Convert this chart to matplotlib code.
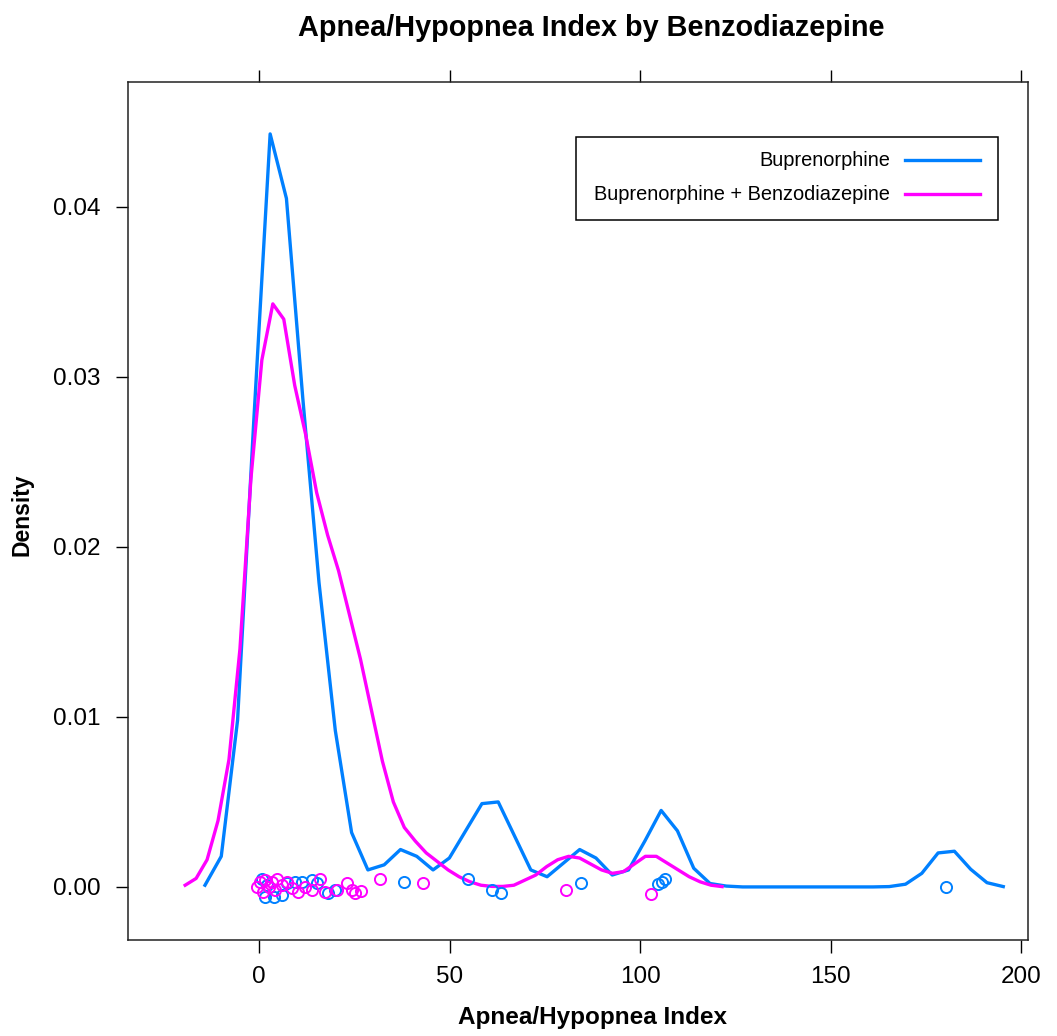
import matplotlib
matplotlib.use('Agg')
import matplotlib.pyplot as plt
from matplotlib.patches import Rectangle
from matplotlib.lines import Line2D
import numpy as np

plt.rcParams['font.family'] = ['Liberation Sans', 'DejaVu Sans']

# 颜色 (lattice 默认配色)
blue = '#0080ff'
magenta = '#ff00ff'

# 密度曲线 - Buprenorphine (50个点)
bup_x = np.linspace(-14.2, 195.3, 50)
bup_y = [0.0001, 0.0018, 0.0098, 0.0275, 0.0443, 0.0405, 0.0288, 0.0179, 0.0092, 0.0032,
         0.0010, 0.0013, 0.0022, 0.0018, 0.0010, 0.0017, 0.0033, 0.0049, 0.0050, 0.0030,
         0.0010, 0.0006, 0.0014, 0.0022, 0.0017, 0.0007, 0.0010, 0.0027, 0.0045, 0.0033,
         0.0011, 0.0002, 0.00005, 0.0, 0.0, 0.0, 0.0, 0.0, 0.0, 0.0,
         0.0, 0.0, 0.00002, 0.00016, 0.0008, 0.0020, 0.0021, 0.00104, 0.00025, 0.00002]

# 密度曲线 - Buprenorphine + Benzodiazepine (50个点)
benzo_x = np.linspace(-19.4, 121.5, 50)
benzo_y = [0.0001, 0.0005, 0.0016, 0.0039, 0.0075, 0.0140, 0.0240, 0.0310, 0.0343, 0.0334,
           0.0295, 0.0266, 0.0232, 0.0207, 0.0186, 0.0160, 0.0134, 0.0104, 0.0074, 0.0050,
           0.0035, 0.0027, 0.0020, 0.0015, 0.0010, 0.0006, 0.0003, 0.0001, 0.00003, 0.00003,
           0.0001, 0.0004, 0.0007, 0.0012, 0.0016, 0.0018, 0.0017, 0.00135, 0.0010, 0.0008,
           0.0009, 0.00135, 0.0018, 0.0018, 0.0014, 0.0010, 0.0006, 0.0003, 0.0001, 0.00002]

# 原始数据点 (y 方向抖动)
bup_pts_x = [0.7, 2.0, 1.6, 3.8, 5.9, 7.3, 9.5, 11.2, 13.8, 15.1, 18.2, 19.9,
             37.9, 54.7, 61.1, 63.4, 84.5, 104.8, 105.7, 106.6, 180.3]
bup_pts_y = [0.00049, 0.00012, -0.00057, -0.00057, -0.00047, 0.00022, 0.00031, 0.00031,
             0.00041, 0.00022, -0.00037, -0.00018, 0.0003, 0.00045, -0.00018, -0.00037,
             0.00025, 0.00015, 0.0003, 0.00045, 0.0]

benzo_pts_x = [-0.6, 0.26, 1.1, 1.6, 2.5, 3.3, 4.2, 4.6, 5.9, 7.3, 8.6, 10.3, 12.1, 13.8,
               16.0, 17.3, 20.4, 23.0, 24.3, 25.2, 26.7, 31.8, 43.0, 80.6, 102.9]
benzo_pts_y = [0.00002, 0.00031, -0.00028, 0.00041, 0.00002, 0.00031, -0.00018, 0.00045,
               0.00012, 0.00031, -0.00008, -0.00028, 0.00002, -0.00018, 0.00045, -0.00028,
               -0.00018, 0.00022, -0.00018, -0.00037, -0.00022, 0.00045, 0.00025, -0.00018,
               -0.00042]

labels = ['Buprenorphine', 'Buprenorphine + Benzodiazepine']

fig = plt.figure(figsize=(10.57, 10.36), dpi=100)
ax = fig.add_axes([0.1211, 0.0927, 0.8515, 0.9208 - 0.0927])

ax.plot(bup_x, bup_y, color=blue, lw=2.4)
ax.plot(benzo_x, benzo_y, color=magenta, lw=2.4)
ax.plot(bup_pts_x, bup_pts_y, 'o', mfc='none', mec=blue, ms=8, mew=1.4)
ax.plot(benzo_pts_x, benzo_pts_y, 'o', mfc='none', mec=magenta, ms=8, mew=1.4)

ax.set_xlim(-34.4, 201.8)
ax.set_ylim(-0.00312, 0.04735)
ax.set_xticks([0, 50, 100, 150, 200])
ax.set_yticks([0.0, 0.01, 0.02, 0.03, 0.04])
ax.set_yticklabels(['0.00', '0.01', '0.02', '0.03', '0.04'])
ax.tick_params(axis='x', top=True, labeltop=False, direction='out', length=9, width=1,
               labelsize=17.5, pad=10)
ax.tick_params(axis='y', right=False, direction='out', length=9, width=1,
               labelsize=17.5, pad=11)
for s in ax.spines.values():
    s.set_linewidth(1.1)
    s.set_color('#222222')

# 图例 (文字右对齐, 线段在右侧)
ax.add_patch(Rectangle((0.498, 0.839), 0.469, 0.097, transform=ax.transAxes,
                       fill=False, ec='black', lw=1.1))
for lab, col, yy in zip(labels, [blue, magenta], [0.909, 0.869]):
    ax.text(0.847, yy, lab, transform=ax.transAxes, ha='right', va='center', fontsize=14.4)
    ax.add_line(Line2D([0.863, 0.947], [yy, yy], transform=ax.transAxes, color=col, lw=2.4))

fig.text(0.5596, 0.973, 'Apnea/Hypopnea Index by Benzodiazepine', ha='center', va='center',
         fontsize=20.8, fontweight='bold')
fig.text(0.5605, 0.0174, 'Apnea/Hypopnea Index', ha='center', va='center',
         fontsize=17.5, fontweight='bold')
fig.text(0.021, 0.503, 'Density', ha='center', va='center', rotation=90,
         fontsize=16.5, fontweight='bold')

plt.savefig('out.png', dpi=100)
